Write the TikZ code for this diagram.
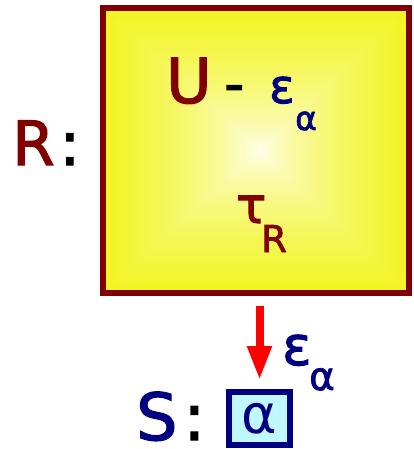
\documentclass[tikz,border=0pt]{standalone}
\usepackage{fontspec}
\setmainfont{DejaVu Sans}[BoldFont=DejaVu Sans, BoldFeatures={FakeBold=2}]
\usetikzlibrary{arrows.meta}
\definecolor{dred}{RGB}{128,0,0}
\definecolor{navyb}{RGB}{0,0,128}
\definecolor{ayel}{RGB}{242,244,36}
\definecolor{lcyan}{RGB}{192,248,255}
\tikzset{
  lbl/.style={anchor=base west, inner sep=0pt},
  fs/.style={font=\fontsize{#1}{#1}\selectfont\bfseries}
}
\begin{document}
\begin{tikzpicture}[x=1pt,y=-1pt]
\useasboundingbox (0,0) rectangle (414,449);
% square gradient fill
\foreach \i in {0,...,59}{
  \pgfmathsetmacro\t{\i/60}
  \pgfmathsetmacro\p{100*(1-\t)^0.6}
  \fill[ayel!\p!white] ({106+154*\t},{11+139*\t}) rectangle ({406-146*\t},{290-140*\t});
}
\node[draw=dred, line width=6pt, minimum width=306pt, minimum height=285pt, inner sep=0pt] (big) at (256,150.5) {};
\node[draw=navyb, fill=lcyan, line width=6pt, minimum width=61pt, minimum height=53pt, inner sep=0pt, text=navyb, font=\fontsize{54pt}{54pt}\selectfont] (sbox) at (259.5,418.5) {α};
\draw[red, line width=8pt, -{Triangle[width=23pt,length=34pt]}] ([yshift=-10pt]big.south -| sbox.north) -- ([yshift=9pt]sbox.north);
% labels
\node[lbl, text=dred, fs=61pt] (rl) at (12,165) {R\hspace{5pt}\textcolor{black}{:}};
\node[lbl, text=dred, fs=62pt] (u) at (166,103) {U};
\node[lbl, text=black, fs=56pt] (dash) at (224,103) {-};
\node[lbl, text=navyb, fs=47pt] (eps) at (269,103) {ε};
\node[lbl, text=navyb, fs=33pt] (epsa) at (295,130) {α};
\node[lbl, text=dred, fs=50pt] (tau) at (236,223) {τ};
\node[lbl, text=dred, fs=37pt] (taur) at (261,252) {R};
\node[lbl, text=navyb, fs=65pt] (sl) at (136,440) {S\hspace{6pt}\textcolor{black}{:}};
\node[lbl, text=navyb, fs=54pt] (e2) at (282,365) {ε};
\node[lbl, text=navyb, fs=39pt] (e2a) at (309,390) {α};
\end{tikzpicture}
\end{document}
